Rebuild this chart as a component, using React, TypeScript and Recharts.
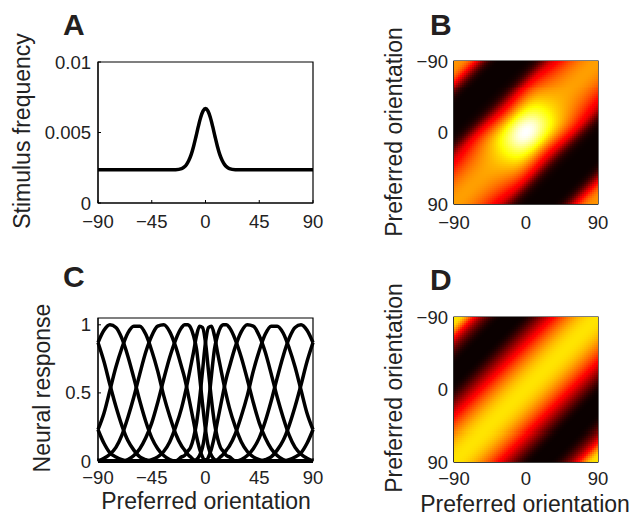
import {
  LineChart,
  Line,
  ScatterChart,
  Scatter,
  XAxis,
  YAxis,
  ReferenceArea,
} from 'recharts';

const FONT = '"Liberation Sans", Arial, Helvetica, sans-serif';
const TEXT = '#222';

// Panel A: stimulus prior
const aAngles = [
  -90, -80, -70, -60, -50, -40, -30, -25, -20, -18, -16, -14, -12, -10, -8, -6, -4, -2, 0,
  2, 4, 6, 8, 10, 12, 14, 16, 18, 20, 25, 30, 40, 50, 60, 70, 80, 90,
];
const aFreq = [
  0.00235, 0.00235, 0.00235, 0.00235, 0.00235, 0.00235, 0.00235, 0.00236, 0.00244,
  0.00254, 0.00272, 0.00301, 0.00343, 0.00401, 0.0047, 0.00543, 0.00608, 0.00653, 0.0067,
  0.00653, 0.00608, 0.00543, 0.0047, 0.00401, 0.00343, 0.00301, 0.00272, 0.00254,
  0.00244, 0.00236, 0.00235, 0.00235, 0.00235, 0.00235, 0.00235, 0.00235, 0.00235,
];
const aXTicks = [-90, -45, 0, 45, 90];
const aYTicks = [0, 0.005, 0.01];

// Panel C: tuning curves
const cAngles = [
  -90, -85, -80, -75, -70, -65, -60, -55, -50, -45, -40, -35, -30, -25, -20, -17.5, -15,
  -12.5, -10, -7.5, -5, -2.5, 0, 2.5, 5, 7.5, 10, 12.5, 15, 17.5, 20, 25, 30, 35, 40, 45,
  50, 55, 60, 65, 70, 75, 80, 85, 90,
];
const tuneM4 = [
  0.87, 0.96, 1.0, 0.98, 0.9, 0.77, 0.61, 0.44, 0.29, 0.17, 0.09, 0.04, 0.01,
  0, 0, 0, 0, 0, 0, 0, 0, 0, 0, 0, 0, 0, 0, 0, 0, 0, 0, 0, 0, 0, 0, 0,
  0.01, 0.03, 0.08, 0.15, 0.26, 0.4, 0.56, 0.73, 0.87,
];
const tuneM3 = [
  0.23, 0.35, 0.52, 0.69, 0.83, 0.94, 0.99, 0.99, 0.93, 0.81, 0.66, 0.48, 0.33, 0.2, 0.11,
  0.08, 0.05, 0.03, 0.01,
  0, 0, 0, 0, 0, 0, 0, 0, 0, 0, 0, 0, 0, 0, 0, 0, 0, 0, 0, 0, 0,
  0.01, 0.03, 0.06, 0.13, 0.23,
];
const tuneM2 = [
  0, 0.02, 0.05, 0.1, 0.19, 0.32, 0.47, 0.64, 0.8, 0.92, 0.99, 1.0, 0.95, 0.84, 0.69, 0.61,
  0.51, 0.4, 0.29, 0.18, 0.09, 0.03,
  0, 0, 0, 0, 0, 0, 0, 0, 0, 0, 0, 0, 0, 0, 0, 0, 0, 0, 0, 0, 0, 0, 0,
];
const tuneM1 = [
  0, 0, 0, 0, 0,
  0.01, 0.04, 0.09, 0.17, 0.28, 0.43, 0.6, 0.76, 0.89, 0.98, 1.0, 1.0, 0.98, 0.92, 0.82,
  0.63, 0.42, 0.23, 0.1, 0.04, 0.01,
  0, 0, 0, 0, 0, 0, 0, 0, 0, 0, 0, 0, 0, 0, 0, 0, 0, 0, 0,
];
const tuneM0 = [
  0, 0, 0, 0, 0, 0, 0, 0, 0,
  0.01, 0.03, 0.07, 0.14, 0.25, 0.39, 0.48, 0.58, 0.69, 0.8, 0.92, 0.99, 0.98, 0.87, 0.66,
  0.45, 0.28, 0.17, 0.1, 0.07, 0.04, 0.03,
  0, 0, 0, 0, 0, 0, 0, 0, 0, 0, 0, 0, 0, 0,
];
const tuneP0 = [
  0, 0, 0, 0, 0, 0, 0, 0, 0, 0, 0, 0, 0, 0,
  0.03, 0.04, 0.07, 0.1, 0.17, 0.28, 0.45, 0.66, 0.87, 0.98, 0.99, 0.92, 0.8, 0.69, 0.58,
  0.48, 0.39, 0.25, 0.14, 0.07, 0.03, 0.01,
  0, 0, 0, 0, 0, 0, 0, 0, 0,
];
const tuneP1 = [
  0, 0, 0, 0, 0, 0, 0, 0, 0, 0, 0, 0, 0, 0, 0, 0, 0, 0, 0,
  0.01, 0.04, 0.1, 0.23, 0.42, 0.63, 0.82, 0.92, 0.98, 1.0, 1.0, 0.98, 0.89, 0.76, 0.6,
  0.43, 0.28, 0.17, 0.09, 0.04, 0.01,
  0, 0, 0, 0, 0,
];
const tuneP2 = [
  0, 0, 0, 0, 0, 0, 0, 0, 0, 0, 0, 0, 0, 0, 0, 0, 0, 0, 0, 0, 0, 0, 0,
  0.03, 0.09, 0.18, 0.29, 0.4, 0.51, 0.61, 0.69, 0.84, 0.95, 1.0, 0.99, 0.92, 0.8, 0.64,
  0.47, 0.32, 0.19, 0.1, 0.05, 0.02, 0,
];
const tuneP3 = [
  0.23, 0.13, 0.06, 0.03, 0.01,
  0, 0, 0, 0, 0, 0, 0, 0, 0, 0, 0, 0, 0, 0, 0, 0, 0, 0, 0, 0, 0,
  0.01, 0.03, 0.05, 0.08, 0.11, 0.2, 0.33, 0.48, 0.66, 0.81, 0.93, 0.99, 0.99, 0.94, 0.83,
  0.69, 0.52, 0.35, 0.23,
];
const tuneP4 = [
  0.87, 0.73, 0.56, 0.4, 0.26, 0.15, 0.08, 0.03, 0.01,
  0, 0, 0, 0, 0, 0, 0, 0, 0, 0, 0, 0, 0, 0, 0, 0, 0, 0, 0, 0, 0, 0, 0,
  0.01, 0.04, 0.09, 0.17, 0.29, 0.44, 0.61, 0.77, 0.9, 0.98, 1.0, 0.96, 0.87,
];
const tuningCurves = [tuneM4, tuneM3, tuneM2, tuneM1, tuneM0, tuneP0, tuneP1, tuneP2, tuneP3, tuneP4];
const cYTicks = [0, 0.5, 1];

// Panels B and D: heat maps over pairs of preferred orientations (2.5 deg cells)
const heatCenters = [
  -88.75, -86.25, -83.75, -81.25, -78.75, -76.25, -73.75, -71.25, -68.75, -66.25, -63.75,
  -61.25, -58.75, -56.25, -53.75, -51.25, -48.75, -46.25, -43.75, -41.25, -38.75, -36.25,
  -33.75, -31.25, -28.75, -26.25, -23.75, -21.25, -18.75, -16.25, -13.75, -11.25, -8.75,
  -6.25, -3.75, -1.25, 1.25, 3.75, 6.25, 8.75, 11.25, 13.75, 16.25, 18.75, 21.25, 23.75,
  26.25, 28.75, 31.25, 33.75, 36.25, 38.75, 41.25, 43.75, 46.25, 48.75, 51.25, 53.75,
  56.25, 58.75, 61.25, 63.75, 66.25, 68.75, 71.25, 73.75, 76.25, 78.75, 81.25, 83.75,
  86.25, 88.75,
];
// value vs. |x + y| = 0, 2.5, ..., 180 (main band near 0, corner bands near 180)
const bProfile = [
  1.0, 0.999, 0.996, 0.99, 0.982, 0.972, 0.96, 0.946, 0.93, 0.912, 0.892, 0.87, 0.846,
  0.82, 0.792, 0.762, 0.73, 0.697, 0.662, 0.625, 0.587, 0.548, 0.508, 0.467, 0.42, 0.36,
  0.3, 0.24, 0.185, 0.135, 0.095, 0.065, 0.042, 0.026, 0.015, 0.008, 0.003, 0, 0,
  0, 0, 0, 0, 0, 0, 0, 0, 0, 0,
  0.002, 0.005, 0.015, 0.03, 0.05, 0.085, 0.13, 0.19, 0.26, 0.34, 0.43, 0.52, 0.61, 0.69,
  0.76, 0.82, 0.87, 0.91, 0.94, 0.955, 0.965, 0.97, 0.975, 0.975,
];
const dProfile = [
  0.71, 0.71, 0.708, 0.705, 0.7, 0.693, 0.685, 0.675, 0.665, 0.652, 0.638, 0.622, 0.605,
  0.587, 0.568, 0.548, 0.527, 0.505, 0.482, 0.458, 0.433, 0.407, 0.38, 0.352, 0.323,
  0.294, 0.265, 0.236, 0.207, 0.178, 0.15, 0.123, 0.097, 0.073, 0.052, 0.034, 0.02, 0.01,
  0.004,
  0, 0, 0, 0, 0, 0, 0, 0, 0, 0,
  0.004, 0.01, 0.02, 0.034, 0.052, 0.075, 0.1, 0.128, 0.16, 0.195, 0.235, 0.28, 0.33,
  0.385, 0.44, 0.5, 0.555, 0.605, 0.65, 0.685, 0.7, 0.708, 0.71, 0.71,
];
// B gain vs |orientation| 1.25, 3.75, ..., 88.75
const bGain = [
  1.0, 0.997, 0.99, 0.98, 0.966, 0.95, 0.932, 0.913, 0.895, 0.878, 0.862, 0.848, 0.835,
  0.824, 0.814, 0.806, 0.799, 0.794, 0.79, 0.787, 0.785, 0.783, 0.782, 0.781, 0.78, 0.78,
  0.78, 0.78, 0.78, 0.78, 0.78, 0.78, 0.78, 0.78, 0.78, 0.78,
];
const heatTicks = [-90, 0, 90];

const aRows = aAngles.map((angle, i) => ({ angle, freq: aFreq[i] }));
const cRows = cAngles.map((angle, i) => {
  const row: { [k: string]: number } = { angle };
  tuningCurves.forEach((curve, n) => {
    row['n' + n] = curve[i];
  });
  return row;
});

// the bright band runs from bottom-left to top-right (x + y = 0)
const bandIndex = (x: number, y: number) => Math.round(Math.abs(x + y) / 2.5);
const gainIndex = (a: number) => Math.round((Math.abs(a) - 1.25) / 2.5);

const bCells: { x: number; y: number; v: number }[] = [];
const dCells: { x: number; y: number; v: number }[] = [];
heatCenters.forEach((y) => {
  heatCenters.forEach((x) => {
    bCells.push({ x, y, v: bProfile[bandIndex(x, y)] * bGain[gainIndex(x)] * bGain[gainIndex(y)] });
    dCells.push({ x, y, v: dProfile[bandIndex(x, y)] });
  });
});

const clamp = (v: number) => Math.max(0, Math.min(1, v));
const hotColor = (v: number) => {
  const r = clamp(0.04 + v / 0.375);
  const g = clamp((v - 0.375) / 0.375);
  const b = clamp((v - 0.75) / 0.25);
  return `rgb(${Math.round(r * 255)},${Math.round(g * 255)},${Math.round(b * 255)})`;
};

const fmt = (v: number) => String(v).replace('-', '\u2212');
const tickStyle = { fontSize: 18.5, fill: TEXT, fontFamily: FONT };
const innerTick = { stroke: '#000', strokeWidth: 1 };

function AxisTitle({ tx, ty, text, vertical }: { tx: number; ty: number; text: string; vertical?: boolean }) {
  return (
    <text
      x={tx}
      y={ty}
      textAnchor="middle"
      dominantBaseline="central"
      transform={vertical ? `rotate(-90 ${tx} ${ty})` : undefined}
      fontSize={23}
      fill={TEXT}
      fontFamily={FONT}
    >
      {text}
    </text>
  );
}

const cellShape = (props: any) => (
  <rect
    x={props.cx - 1.3}
    y={props.cy - 1.3}
    width={2.6}
    height={2.6}
    fill={hotColor(props.payload.v)}
    shapeRendering="crispEdges"
  />
);

function HeatPanel({
  cells,
  height,
  marginTop,
  marginBottom,
  xHeight,
  xMargin,
  xTitle,
}: {
  cells: { x: number; y: number; v: number }[];
  height: number;
  marginTop: number;
  marginBottom: number;
  xHeight: number;
  xMargin: number;
  xTitle?: boolean;
}) {
  return (
    <ScatterChart
      width={306}
      height={height}
      margin={{ top: marginTop, right: 38, bottom: marginBottom, left: 64 }}
    >
      <XAxis
        dataKey="x"
        type="number"
        domain={[-90, 90]}
        ticks={heatTicks}
        interval={0}
        tickFormatter={fmt}
        tickSize={0}
        tickMargin={xMargin}
        height={xHeight}
        axisLine={{ stroke: '#000' }}
        tick={tickStyle}
        label={xTitle ? <AxisTitle tx={195} ty={244} text="Preferred orientation" /> : undefined}
      />
      <YAxis
        dataKey="y"
        type="number"
        domain={[-90, 90]}
        reversed
        ticks={heatTicks}
        interval={0}
        tickFormatter={fmt}
        tickSize={0}
        tickMargin={6}
        width={60}
        axisLine={{ stroke: '#000' }}
        tick={tickStyle}
        label={<AxisTitle tx={63.5} ty={marginTop + 71} text="Preferred orientation" vertical />}
      />
      <Scatter data={cells} shape={cellShape} isAnimationActive={false} />
      <ReferenceArea x1={-90} x2={90} y1={-90} y2={90} fill="none" stroke="#000" strokeWidth={1.2} />
    </ScatterChart>
  );
}

export default function App() {
  return (
    <div style={{ position: 'absolute', left: 0, top: 0, width: 636, height: 517, background: '#fff' }}>
      <div style={{ position: 'absolute', left: 0, top: 0 }}>
        <LineChart width={330} height={250} data={aRows} margin={{ top: 62, right: 17, bottom: 17, left: 38 }}>
          <XAxis
            dataKey="angle"
            type="number"
            domain={[-90, 90]}
            ticks={aXTicks}
            interval={0}
            tickFormatter={fmt}
            tickSize={-3}
            tickMargin={15}
            tickLine={innerTick}
            height={30}
            axisLine={{ stroke: '#000' }}
            tick={tickStyle}
          />
          <YAxis
            type="number"
            domain={[0, 0.01]}
            ticks={aYTicks}
            interval={0}
            tickFormatter={(v: number) => (v === 0 ? '0' : String(v))}
            tickSize={-3}
            tickMargin={10}
            tickLine={innerTick}
            width={60}
            axisLine={{ stroke: '#000' }}
            tick={tickStyle}
            label={<AxisTitle tx={22} ty={131} text="Stimulus frequency" vertical />}
          />
          <ReferenceArea x1={-90} x2={90} y1={0} y2={0.01} fill="none" stroke="#000" strokeWidth={1.2} />
          <Line
            dataKey="freq"
            type="monotone"
            stroke="#000"
            strokeWidth={3.5}
            dot={false}
            isAnimationActive={false}
          />
        </LineChart>
      </div>

      <div style={{ position: 'absolute', left: 330, top: 0 }}>
        <HeatPanel cells={bCells} height={250} marginTop={61} marginBottom={16} xHeight={30} xMargin={12} />
      </div>

      <div style={{ position: 'absolute', left: 0, top: 260 }}>
        <LineChart width={330} height={257} data={cRows} margin={{ top: 58, right: 17, bottom: 0, left: 38 }}>
          <XAxis
            dataKey="angle"
            type="number"
            domain={[-90, 90]}
            ticks={aXTicks}
            interval={0}
            tickFormatter={fmt}
            tickSize={-3}
            tickMargin={13}
            tickLine={innerTick}
            height={56}
            axisLine={{ stroke: '#000' }}
            tick={tickStyle}
            label={<AxisTitle tx={206} ty={241} text="Preferred orientation" />}
          />
          <YAxis
            type="number"
            domain={[0, 1.05]}
            ticks={cYTicks}
            interval={0}
            tickSize={-3}
            tickMargin={10}
            tickLine={innerTick}
            width={60}
            axisLine={{ stroke: '#000' }}
            tick={tickStyle}
            label={<AxisTitle tx={41.5} ty={128} text="Neural response" vertical />}
          />
          <ReferenceArea x1={-90} x2={90} y1={0} y2={1.05} fill="none" stroke="#000" strokeWidth={1.2} />
          {tuningCurves.map((_, n) => (
            <Line
              key={n}
              dataKey={'n' + n}
              type="monotone"
              stroke="#000"
              strokeWidth={3.5}
              dot={false}
              isAnimationActive={false}
            />
          ))}
        </LineChart>
      </div>

      <div style={{ position: 'absolute', left: 330, top: 260 }}>
        <HeatPanel cells={dCells} height={257} marginTop={57} marginBottom={0} xHeight={55} xMargin={10} xTitle />
      </div>

      <svg width={636} height={517} style={{ position: 'absolute', left: 0, top: 0, pointerEvents: 'none' }}>
        <g fontFamily={FONT} fontWeight="bold" fontSize={30} fill="#231f20">
          <text x={63} y={35}>A</text>
          <text x={430} y={35}>B</text>
          <text x={63} y={287}>C</text>
          <text x={430} y={290}>D</text>
        </g>
      </svg>
    </div>
  );
}
